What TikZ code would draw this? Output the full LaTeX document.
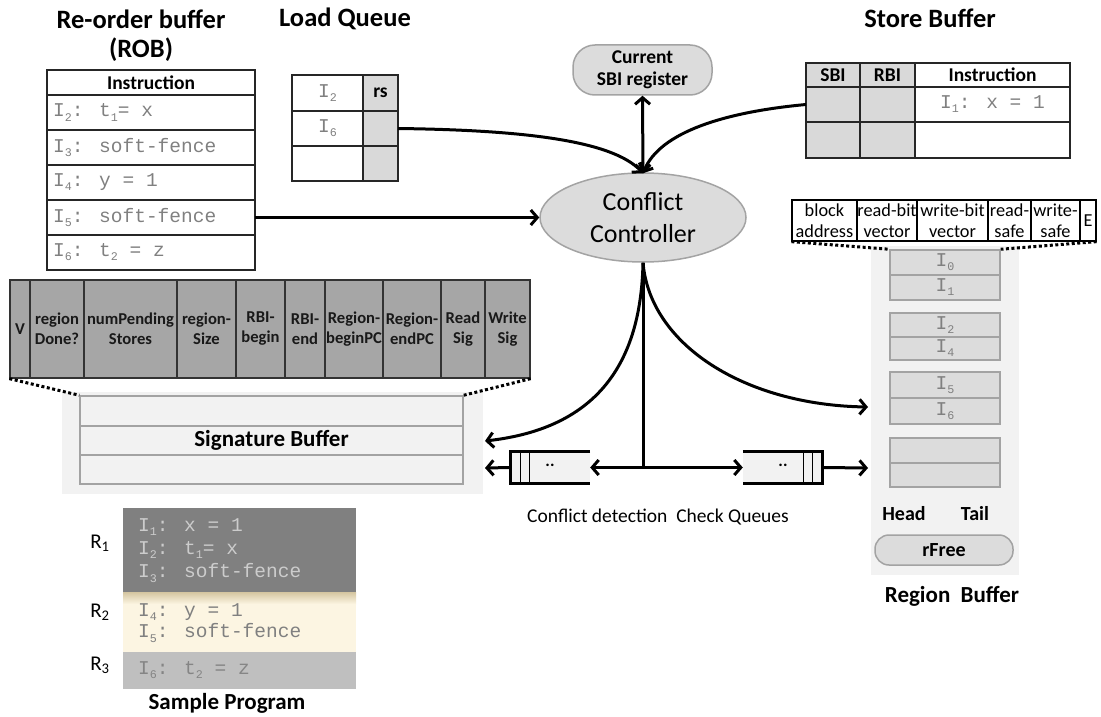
\documentclass[tikz,border=0pt]{standalone}
\usepackage{fontspec}
\usepackage{graphicx}
\setmainfont{Carlito}
\newfontfamily\codefont{Liberation Mono}
\usetikzlibrary{arrows.meta,shapes.geometric}

\definecolor{codegray}{HTML}{808080}
\definecolor{cellgray}{HTML}{D9D9D9}
\definecolor{fieldgray}{HTML}{A6A6A6}
\definecolor{panel}{HTML}{F2F2F2}
\definecolor{boxgray}{HTML}{DCDCDC}
\definecolor{edgegray}{HTML}{A3A3A3}
\definecolor{cream}{RGB}{252,245,226}
\definecolor{tan}{RGB}{212,197,160}

% small lowered index for instruction names
\newcommand{\ix}[1]{\raisebox{-0.4ex}{\scalebox{0.6}{#1}}}

\tikzset{
  cell/.style={draw=black!85, line width=1.3pt, rectangle, inner sep=0pt, outer sep=0pt},
  codetxt/.style={font=\codefont\fontsize{19.5}{22}\selectfont, text=codegray, inner sep=0pt},
  hdr/.style={font=\bfseries\fontsize{19.5}{22}\selectfont},
  title/.style={font=\bfseries\fontsize{26.5}{29}\selectfont, align=center},
  field/.style={draw=black!80, line width=1.3pt, fill=fieldgray, rectangle, inner sep=0pt,
    align=center, font=\bfseries\fontsize{16.6}{20}\selectfont, text=black!90},
  entryhdr/.style={draw=black, line width=1.3pt, fill=white, rectangle, inner sep=0pt,
    align=center, font=\fontsize{18.3}{21}\selectfont},
  rbox/.style={draw=edgegray, line width=1.5pt, fill=boxgray, rectangle, inner sep=0pt,
    minimum width=110pt, font=\codefont\fontsize{19.5}{22}\selectfont, text=codegray},
  sigrow/.style={draw=edgegray, line width=1.5pt, fill=panel, rectangle, inner sep=0pt,
    minimum width=383pt},
  link/.style={line width=3pt, -{Straight Barb[length=6.5pt,width=15pt]}},
  biglink/.style={line width=3pt, {Straight Barb[length=6.5pt,width=15pt]}-{Straight Barb[length=6.5pt,width=15pt]}},
  fan/.style={line width=3pt, dash pattern=on 3pt off 2.5pt},
  qbody/.style={fill=panel, draw=none, rectangle, minimum width=79pt, minimum height=31pt, inner sep=0pt},
  label20/.style={font=\bfseries\fontsize{20}{22}\selectfont}
}

\begin{document}
\begin{tikzpicture}[x=1pt,y=-1pt]
\useasboundingbox (0,0) rectangle (1101,717);

% ---------------- titles ----------------
\node[title] (robtitle) at (141,36) {Re-order buffer\\(ROB)};
\node[title] (lqtitle) at (345,19) {Load Queue};
\node[title] (sbtitle) at (930,18) {Store Buffer};

% ---------------- re-order buffer ----------------
\node[cell, minimum width=208pt, minimum height=25pt, hdr] (robh) at (151,82.5) {Instruction};
\node[cell, minimum width=208pt, minimum height=35pt] (rob2) at (151,112.5) {};
\node[cell, minimum width=208pt, minimum height=35pt] (rob3) at (151,147.5) {};
\node[cell, minimum width=208pt, minimum height=35pt] (rob4) at (151,182.5) {};
\node[cell, minimum width=208pt, minimum height=35pt] (rob5) at (151,217.5) {};
\node[cell, minimum width=208pt, minimum height=35pt] (rob6) at (151,252.5) {};
\node[codetxt, anchor=west] (rob2t) at ([xshift=6pt]rob2.west) {I\ix{2}: t\ix{1}= x};
\node[codetxt, anchor=west] (rob3t) at ([xshift=6pt]rob3.west) {I\ix{3}: soft-fence};
\node[codetxt, anchor=west] (rob4t) at ([xshift=6pt]rob4.west) {I\ix{4}: y = 1};
\node[codetxt, anchor=west] (rob5t) at ([xshift=6pt]rob5.west) {I\ix{5}: soft-fence};
\node[codetxt, anchor=west] (rob6t) at ([xshift=6pt]rob6.west) {I\ix{6}: t\ix{2} = z};

% ---------------- load queue ----------------
\node[cell, minimum width=71pt, minimum height=36pt, codetxt] (lq1) at (327.5,93) {I\ix{2}};
\node[cell, minimum width=71pt, minimum height=35pt, codetxt] (lq2) at (327.5,128.5) {I\ix{6}};
\node[cell, minimum width=71pt, minimum height=35pt] (lq3) at (327.5,163.5) {};
\node[cell, fill=cellgray, minimum width=35pt, minimum height=36pt, hdr] (rs1) at (380.5,93) {rs};
\node[cell, fill=cellgray, minimum width=35pt, minimum height=35pt] (rs2) at (380.5,128.5) {};
\node[cell, fill=cellgray, minimum width=35pt, minimum height=35pt] (rs3) at (380.5,163.5) {};

% ---------------- store buffer ----------------
\node[cell, fill=cellgray, minimum width=54pt, minimum height=24pt, hdr] (sbi0) at (833,75) {SBI};
\node[cell, fill=cellgray, minimum width=55pt, minimum height=24pt, hdr] (rbi0) at (887.5,75) {RBI};
\node[cell, minimum width=155pt, minimum height=24pt, hdr] (ins0) at (992.5,75) {Instruction};
\node[cell, fill=cellgray, minimum width=54pt, minimum height=35pt] (sbi1) at (833,104.5) {};
\node[cell, fill=cellgray, minimum width=55pt, minimum height=35pt] (rbi1) at (887.5,104.5) {};
\node[cell, minimum width=155pt, minimum height=35pt, codetxt] (ins1) at (992.5,104.5) {I\ix{1}: x = 1};
\node[cell, fill=cellgray, minimum width=54pt, minimum height=36pt] (sbi2) at (833,140) {};
\node[cell, fill=cellgray, minimum width=55pt, minimum height=36pt] (rbi2) at (887.5,140) {};
\node[cell, minimum width=155pt, minimum height=36pt] (ins2) at (992.5,140) {};

% ---------------- current SBI register and controller ----------------
\node[draw=edgegray, line width=1.5pt, fill=boxgray, rectangle, rounded corners=22pt,
  minimum width=139pt, minimum height=50pt, align=center,
  font=\bfseries\fontsize{19.5}{22}\selectfont] (sbireg) at (642.5,70) {Current\\SBI register};
\node[draw=edgegray, line width=1.5pt, fill=boxgray, ellipse, minimum width=206pt,
  minimum height=89pt, inner sep=0pt, align=center,
  font=\fontsize{26}{32}\selectfont] (cc) at (643,217.5) {Conflict\\Controller};

% ---------------- region buffer ----------------
\fill[panel] (871,246) rectangle (1019,575);
\node[entryhdr, minimum width=65pt, minimum height=41pt] (eh1) at (824.5,220.5) {block\\address};
\node[entryhdr, minimum width=60pt, minimum height=41pt] (eh2) at (887,220.5) {read-bit\\vector};
\node[entryhdr, minimum width=71pt, minimum height=41pt] (eh3) at (952.5,220.5) {write-bit\\vector};
\node[entryhdr, minimum width=43pt, minimum height=41pt] (eh4) at (1009.5,220.5) {read-\\safe};
\node[entryhdr, minimum width=49pt, minimum height=41pt] (eh5) at (1055.5,220.5) {write-\\safe};
\node[entryhdr, minimum width=16pt, minimum height=41pt] (eh6) at (1088,220.5) {E};

\node[rbox, minimum height=25pt] (rb1a) at (945,262.5) {I\ix{0}};
\node[rbox, minimum height=25pt] (rb1b) at (945,287.5) {I\ix{1}};
\node[rbox, minimum height=24pt] (rb2a) at (945,325) {I\ix{2}};
\node[rbox, minimum height=23pt] (rb2b) at (945,348.5) {I\ix{4}};
\node[rbox, minimum height=26pt] (rb3a) at (945,385) {I\ix{5}};
\node[rbox, minimum height=26pt] (rb3b) at (945,411) {I\ix{6}};
\node[rbox, minimum height=25pt] (rb4a) at (945,450.5) {};
\node[rbox, minimum height=24pt] (rb4b) at (945,475) {};

\draw[fan] (eh1.south west) -- (rb1a.north west);
\draw[fan] (eh6.south east) -- (rb1a.north east);

\node[label20] (head) at (904,514) {Head};
\node[label20] (tail) at (975,514) {Tail};
\node[draw=edgegray, line width=1.5pt, fill=boxgray, rectangle, rounded corners=14pt,
  minimum width=138pt, minimum height=30pt, inner sep=0pt, label20] (rfree) at (944,550) {rFree};
\node[font=\bfseries\fontsize{23}{26}\selectfont] (rbtitle) at (952,596) {Region\ \ Buffer};

% ---------------- signature buffer ----------------
\fill[panel] (62,392) rectangle (483,494);
\foreach \l/\r/\t/\n in {10/30/V/1, 30/84/{region\\Done?}/2, 84/177/{numPending\\Stores}/3,
    177/236/{region-\\Size}/4, 236/285/{RBI-\\begin}/5, 285/325/{RBI-\\end}/6,
    325/383/{Region-\\beginPC}/7, 383/441/{Region-\\endPC}/8, 441/485/{Read\\Sig}/9,
    485/530/{Write\\Sig}/10}
  \node[field, minimum width={(\r-\l)*1pt}, minimum height=98pt] (sf\n) at ({(\l+\r)/2},329) {\t};

\node[sigrow, minimum height=30pt] (sig1) at (271.5,411) {};
\node[sigrow, minimum height=29pt, font=\bfseries\fontsize{23}{26}\selectfont] (sig2) at (271.5,440.5) {Signature Buffer};
\node[sigrow, minimum height=29pt] (sig3) at (271.5,469.5) {};

\draw[fan] (sf1.south west) -- (sig1.north west);
\draw[fan] (sf10.south east) -- (sig1.north east);

% ---------------- conflict detection check queues ----------------
\node[qbody] (qL) at (550.5,467.5) {};
\draw[line width=3pt] (qL.north east) -- (qL.north west) -- (qL.south west) -- (qL.south east);
\draw[line width=0.8pt] ([xshift=10pt]qL.north west) -- ([xshift=10pt]qL.south west);
\draw[line width=0.8pt] ([xshift=19pt]qL.north west) -- ([xshift=19pt]qL.south west);
\node[font=\bfseries\fontsize{17}{17}\selectfont] (qLdots) at (550,465) {..};

\node[qbody] (qR) at (782.5,467.5) {};
\draw[line width=3pt] (qR.north west) -- (qR.north east) -- (qR.south east) -- (qR.south west);
\draw[line width=0.8pt] ([xshift=-10pt]qR.north east) -- ([xshift=-10pt]qR.south east);
\draw[line width=0.8pt] ([xshift=-19pt]qR.north east) -- ([xshift=-19pt]qR.south east);
\node[font=\bfseries\fontsize{17}{17}\selectfont] (qRdots) at (783,465) {..};

\node[font=\fontsize{19.5}{22}\selectfont] (cqlabel) at (658,517) {Conflict detection\ \ Check Queues};

% ---------------- sample program ----------------
\fill[black!50] (123,508) rectangle (356,592);
\fill[cream] (123,592) rectangle (356,652);
\shade[top color=tan, bottom color=cream] (123,592) rectangle (356,604);
\fill[black!25] (123,652) rectangle (356,689);
\begin{scope}[every node/.style={codetxt, anchor=west}]
  \node[text=black!20] (p1) at (138,527) {I\ix{1}: x = 1};
  \node[text=black!20] (p2) at (138,550) {I\ix{2}: t\ix{1}= x};
  \node[text=black!20] (p3) at (138,573) {I\ix{3}: soft-fence};
  \node (p4) at (138,612) {I\ix{4}: y = 1};
  \node (p5) at (138,633) {I\ix{5}: soft-fence};
  \node[text=black!48] (p6) at (138,670) {I\ix{6}: t\ix{2} = z};
\end{scope}
\node[font=\fontsize{21}{24}\selectfont] (r1) at (100,543) {R\textsubscript{1}};
\node[font=\fontsize{21}{24}\selectfont] (r2) at (100,612) {R\textsubscript{2}};
\node[font=\fontsize{21}{24}\selectfont] (r3) at (100,665) {R\textsubscript{3}};
\node[font=\bfseries\fontsize{23}{26}\selectfont] (sptitle) at (227,703) {Sample Program};

% ---------------- connectors ----------------
\coordinate (cctop) at ([yshift=-1pt]cc.north);
\coordinate (ccbot) at (cc.south);
\coordinate (hub) at (cc.south |- qL.east);
\coordinate (rbin1) at (868,407);
\coordinate (rbin2) at (868,468);
\coordinate (sigin1) at (485,441);
\coordinate (sigin2) at (485,468);

\draw[link] (rob5.east) -- (cc.west);
\draw[link] (rs2.east) .. controls (520,130) and (612,140) .. (cctop);
\draw[link] (sbi1.west) .. controls (725,112) and (660,132) .. (cctop);
\draw[biglink] (sbireg.south) -- (cctop);

\draw[line width=3pt] (ccbot) -- (hub);
\draw[biglink] (qL.east) -- (qR.west);
\draw[link] (ccbot) .. controls (641,360) and (600,428) .. (sigin1);
\draw[link] (ccbot) .. controls (650,345) and (745,405) .. (rbin1);
\draw[link] (qL.west) -- (sigin2);
\draw[link] (qR.east) -- (rbin2);
\end{tikzpicture}
\end{document}
